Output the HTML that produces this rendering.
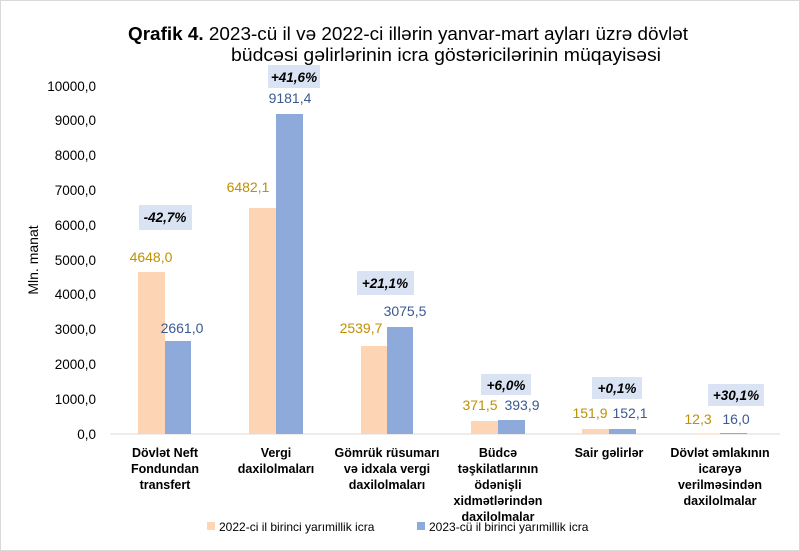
<!DOCTYPE html>
<html><head><meta charset="utf-8"><style>
html,body{margin:0;padding:0;background:#fff;}
svg{display:block;font-family:"Liberation Sans",Arial,sans-serif;}
</style></head><body>
<svg width="800" height="551" viewBox="0 0 800 551" xmlns="http://www.w3.org/2000/svg">
<rect x="0.5" y="0.5" width="799" height="550" fill="#fff" stroke="#d9d9d9"/>
<text x="128" y="40" font-size="18" fill="#000" textLength="560" lengthAdjust="spacingAndGlyphs"><tspan font-weight="bold">Qrafik 4.</tspan> 2023-cü il və 2022-ci illərin yanvar-mart ayları üzrə dövlət</text>
<text x="231" y="61" font-size="18" fill="#000" textLength="430" lengthAdjust="spacingAndGlyphs">büdcəsi gəlirlərinin icra göstəricilərinin müqayisəsi</text>
<g font-size="13.5" fill="#000" text-anchor="end">
<text x="96" y="91">10000,0</text><text x="96" y="125">9000,0</text><text x="96" y="160">8000,0</text>
<text x="96" y="195">7000,0</text><text x="96" y="230">6000,0</text><text x="96" y="265">5000,0</text>
<text x="96" y="299">4000,0</text><text x="96" y="334">3000,0</text><text x="96" y="369">2000,0</text>
<text x="96" y="404">1000,0</text><text x="96" y="439">0,0</text>
</g>
<text transform="translate(38,260) rotate(-90)" font-size="14" text-anchor="middle">Mln. manat</text>
<line x1="110" y1="434" x2="780" y2="434" stroke="#d9d9d9"/>
<g fill="#fdd5b4">
<rect x="138" y="272" width="27" height="162"/><rect x="249" y="208" width="27" height="226"/>
<rect x="361" y="346" width="26" height="88"/><rect x="471" y="421" width="27" height="13"/>
<rect x="582" y="429" width="27" height="5"/><rect x="693" y="434" width="27" height="0.5"/>
</g>
<g fill="#8eaadb">
<rect x="165" y="341" width="26" height="93"/><rect x="276" y="114" width="27" height="320"/>
<rect x="387" y="327" width="26" height="107"/><rect x="498" y="420" width="27" height="14"/>
<rect x="609" y="429" width="27" height="5"/><rect x="720" y="433" width="27" height="1"/>
</g>
<g font-size="14" fill="#bf9000" text-anchor="middle">
<text x="151" y="262">4648,0</text><text x="248" y="192">6482,1</text><text x="361" y="333">2539,7</text>
<text x="480" y="410">371,5</text><text x="590" y="418">151,9</text><text x="698" y="424">12,3</text>
</g>
<g font-size="14" fill="#3b5a8f" text-anchor="middle">
<text x="182" y="333">2661,0</text><text x="290" y="103">9181,4</text><text x="405" y="316">3075,5</text>
<text x="522" y="410">393,9</text><text x="630" y="418">152,1</text><text x="736" y="424">16,0</text>
</g>
<g fill="#dae3f3">
<rect x="139" y="205" width="53" height="25"/><rect x="268" y="65" width="52" height="23"/>
<rect x="357" y="271" width="57" height="24"/><rect x="481" y="374" width="50" height="21"/>
<rect x="592" y="377" width="50" height="22"/><rect x="708" y="384" width="56" height="22"/>
</g>
<g font-size="13.5" font-weight="bold" font-style="italic" text-anchor="middle" fill="#000">
<text x="165" y="222">-42,7%</text><text x="294" y="82">+41,6%</text><text x="385" y="288">+21,1%</text>
<text x="506" y="390">+6,0%</text><text x="617" y="393">+0,1%</text><text x="736" y="400">+30,1%</text>
</g>
<g font-size="12.5" font-weight="bold" text-anchor="middle" fill="#000">
<text x="165" y="457">Dövlət Neft</text><text x="165" y="473">Fondundan</text><text x="165" y="489">transfert</text>
<text x="276" y="457">Vergi</text><text x="276" y="473">daxilolmaları</text>
<text x="387" y="457">Gömrük rüsumarı</text><text x="387" y="473">və idxala vergi</text><text x="387" y="489">daxilolmaları</text>
<text x="498" y="457">Büdcə</text><text x="498" y="473">təşkilatlarının</text><text x="498" y="489">ödənişli</text><text x="498" y="505">xidmətlərindən</text><text x="498" y="521">daxilolmalar</text>
<text x="609" y="457">Sair gəlirlər</text>
<text x="720" y="457">Dövlət əmlakının</text><text x="720" y="473">icarəyə</text><text x="720" y="489">verilməsindən</text><text x="720" y="505">daxilolmalar</text>
</g>
<rect x="207" y="522" width="8" height="8" fill="#fdd5b4"/>
<text x="219" y="531" font-size="12">2022-ci il birinci yarımillik icra</text>
<rect x="417" y="522" width="8" height="8" fill="#8eaadb"/>
<text x="429" y="531" font-size="12">2023-cü il birinci yarımillik icra</text>
</svg>
</body></html>
